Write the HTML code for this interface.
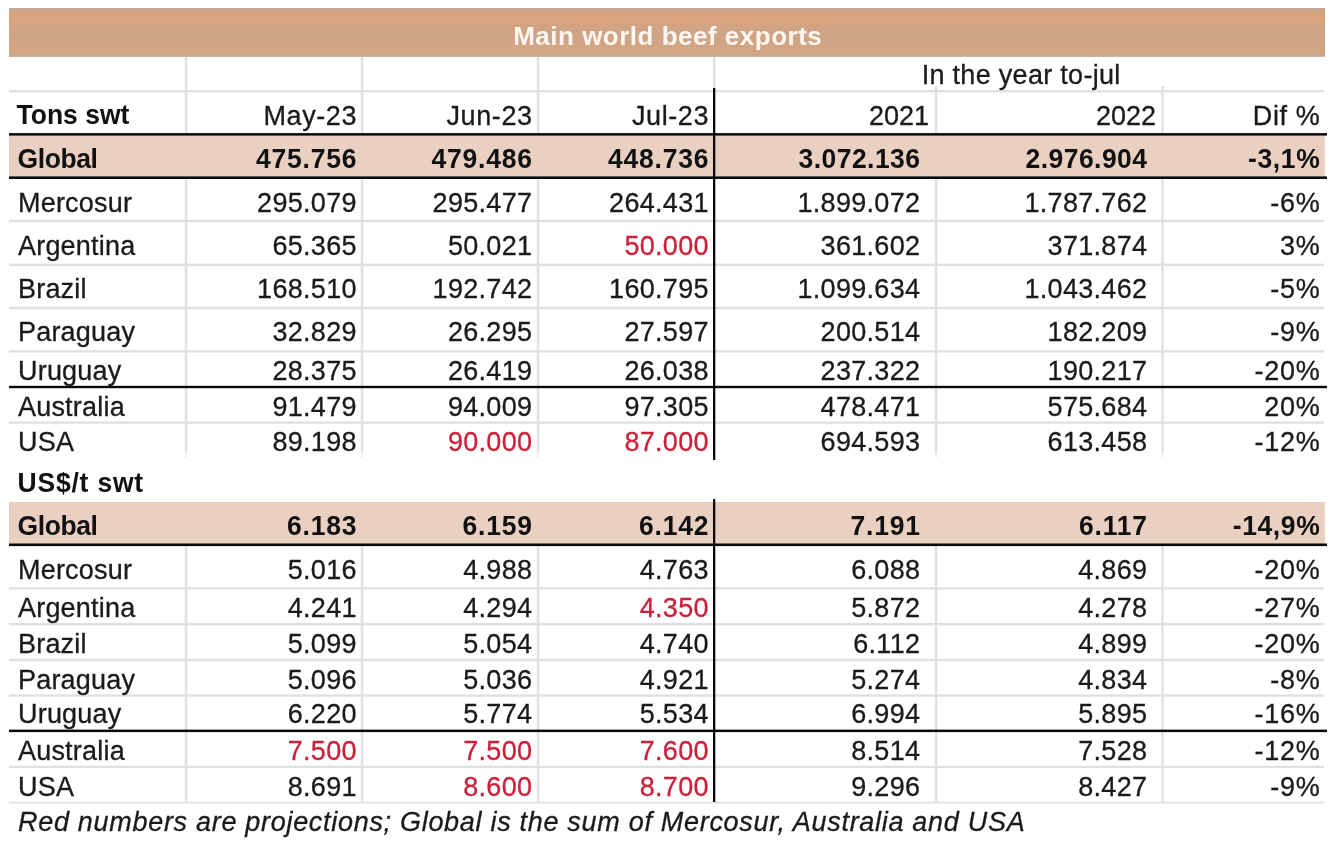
<!DOCTYPE html>
<html lang="en"><head><meta charset="utf-8"><title>Main world beef exports</title>
<style>
html,body{margin:0;padding:0;background:#fff;}
#c{position:relative;width:1330px;height:846px;overflow:hidden;background:#fff;
 font-family:"Liberation Sans",sans-serif;color:#1a1a1a;}
.r{position:absolute;}
.t{position:absolute;white-space:nowrap;line-height:1;}
.n{font-size:27px;-webkit-text-stroke:0.3px currentColor;}
.b{font-size:26.5px;font-weight:bold;color:#111;}
.i{font-size:27px;font-style:italic;-webkit-text-stroke:0.3px currentColor;}
</style></head>
<body><div id="c">
<div class="r" style="left:9px;top:8px;width:1316px;height:49px;background:linear-gradient(to bottom,#c3a38f 0,#c9a891 2px,#d5a27c 5px,#dba57b 11px,#d3a482 17px,#cea487 24px,#cfa486 34px,#d4a580 42px,#cda689 46px,#c6a995 48px,#d9c3b4 49px)"></div>
<div class="r" style="left:9px;top:135px;width:1316px;height:42px;background:#ead0c1"></div>
<div class="r" style="left:9px;top:502px;width:1316px;height:42.5px;background:#ead0c1"></div>
<div class="r" style="left:9px;top:90px;width:1315px;height:1px;background:#e0e0e3"></div>
<div class="r" style="left:9px;top:91px;width:1315px;height:1px;background:#e0e0e3"></div>
<div class="r" style="left:9px;top:92px;width:1315px;height:1px;background:#e0e0e3;opacity:0.40"></div>
<div class="r" style="left:9px;top:219px;width:1315px;height:1px;background:#e0e0e3;opacity:0.20"></div>
<div class="r" style="left:9px;top:220px;width:1315px;height:1px;background:#e0e0e3"></div>
<div class="r" style="left:9px;top:221px;width:1315px;height:1px;background:#e0e0e3"></div>
<div class="r" style="left:9px;top:222px;width:1315px;height:1px;background:#e0e0e3;opacity:0.20"></div>
<div class="r" style="left:9px;top:263px;width:1315px;height:1px;background:#e0e0e3;opacity:0.40"></div>
<div class="r" style="left:9px;top:264px;width:1315px;height:1px;background:#e0e0e3"></div>
<div class="r" style="left:9px;top:265px;width:1315px;height:1px;background:#e0e0e3"></div>
<div class="r" style="left:9px;top:306px;width:1315px;height:1px;background:#e0e0e3;opacity:0.20"></div>
<div class="r" style="left:9px;top:307px;width:1315px;height:1px;background:#e0e0e3"></div>
<div class="r" style="left:9px;top:308px;width:1315px;height:1px;background:#e0e0e3"></div>
<div class="r" style="left:9px;top:309px;width:1315px;height:1px;background:#e0e0e3;opacity:0.20"></div>
<div class="r" style="left:9px;top:350px;width:1315px;height:1px;background:#e0e0e3;opacity:0.80"></div>
<div class="r" style="left:9px;top:351px;width:1315px;height:1px;background:#e0e0e3"></div>
<div class="r" style="left:9px;top:352px;width:1315px;height:1px;background:#e0e0e3;opacity:0.60"></div>
<div class="r" style="left:9px;top:421px;width:1315px;height:1px;background:#e0e0e3;opacity:0.60"></div>
<div class="r" style="left:9px;top:422px;width:1315px;height:1px;background:#e0e0e3"></div>
<div class="r" style="left:9px;top:423px;width:1315px;height:1px;background:#e0e0e3;opacity:0.80"></div>
<div class="r" style="left:9px;top:587px;width:1315px;height:1px;background:#e0e0e3;opacity:0.80"></div>
<div class="r" style="left:9px;top:588px;width:1315px;height:1px;background:#e0e0e3"></div>
<div class="r" style="left:9px;top:589px;width:1315px;height:1px;background:#e0e0e3;opacity:0.60"></div>
<div class="r" style="left:9px;top:622px;width:1315px;height:1px;background:#e0e0e3;opacity:0.10"></div>
<div class="r" style="left:9px;top:623px;width:1315px;height:1px;background:#e0e0e3"></div>
<div class="r" style="left:9px;top:624px;width:1315px;height:1px;background:#e0e0e3"></div>
<div class="r" style="left:9px;top:625px;width:1315px;height:1px;background:#e0e0e3;opacity:0.30"></div>
<div class="r" style="left:9px;top:658px;width:1315px;height:1px;background:#e0e0e3;opacity:0.30"></div>
<div class="r" style="left:9px;top:659px;width:1315px;height:1px;background:#e0e0e3"></div>
<div class="r" style="left:9px;top:660px;width:1315px;height:1px;background:#e0e0e3"></div>
<div class="r" style="left:9px;top:661px;width:1315px;height:1px;background:#e0e0e3;opacity:0.10"></div>
<div class="r" style="left:9px;top:694px;width:1315px;height:1px;background:#e0e0e3;opacity:0.60"></div>
<div class="r" style="left:9px;top:695px;width:1315px;height:1px;background:#e0e0e3"></div>
<div class="r" style="left:9px;top:696px;width:1315px;height:1px;background:#e0e0e3;opacity:0.80"></div>
<div class="r" style="left:9px;top:765px;width:1315px;height:1px;background:#e0e0e3;opacity:0.30"></div>
<div class="r" style="left:9px;top:766px;width:1315px;height:1px;background:#e0e0e3"></div>
<div class="r" style="left:9px;top:767px;width:1315px;height:1px;background:#e0e0e3"></div>
<div class="r" style="left:9px;top:768px;width:1315px;height:1px;background:#e0e0e3;opacity:0.10"></div>
<div class="r" style="left:9px;top:801px;width:1315px;height:1px;background:#e0e0e1;opacity:0.30"></div>
<div class="r" style="left:9px;top:802px;width:1315px;height:1px;background:#e0e0e1"></div>
<div class="r" style="left:9px;top:803px;width:1315px;height:1px;background:#e0e0e1;opacity:0.50"></div>
<div class="r" style="left:184px;top:56.5px;width:1px;height:77px;background:#e0e0e3;opacity:0.20"></div>
<div class="r" style="left:185px;top:56.5px;width:1px;height:77px;background:#e0e0e3"></div>
<div class="r" style="left:186px;top:56.5px;width:1px;height:77px;background:#e0e0e3"></div>
<div class="r" style="left:187px;top:56.5px;width:1px;height:77px;background:#e0e0e3;opacity:0.20"></div>
<div class="r" style="left:184px;top:179px;width:1px;height:273px;background:#e0e0e3;opacity:0.20"></div>
<div class="r" style="left:185px;top:179px;width:1px;height:273px;background:#e0e0e3"></div>
<div class="r" style="left:186px;top:179px;width:1px;height:273px;background:#e0e0e3"></div>
<div class="r" style="left:187px;top:179px;width:1px;height:273px;background:#e0e0e3;opacity:0.20"></div>
<div class="r" style="left:184px;top:546px;width:1px;height:255.5px;background:#e0e0e3;opacity:0.20"></div>
<div class="r" style="left:185px;top:546px;width:1px;height:255.5px;background:#e0e0e3"></div>
<div class="r" style="left:186px;top:546px;width:1px;height:255.5px;background:#e0e0e3"></div>
<div class="r" style="left:187px;top:546px;width:1px;height:255.5px;background:#e0e0e3;opacity:0.20"></div>
<div class="r" style="left:360px;top:56.5px;width:1px;height:77px;background:#e0e0e3;opacity:0.20"></div>
<div class="r" style="left:361px;top:56.5px;width:1px;height:77px;background:#e0e0e3"></div>
<div class="r" style="left:362px;top:56.5px;width:1px;height:77px;background:#e0e0e3"></div>
<div class="r" style="left:363px;top:56.5px;width:1px;height:77px;background:#e0e0e3;opacity:0.20"></div>
<div class="r" style="left:360px;top:179px;width:1px;height:273px;background:#e0e0e3;opacity:0.20"></div>
<div class="r" style="left:361px;top:179px;width:1px;height:273px;background:#e0e0e3"></div>
<div class="r" style="left:362px;top:179px;width:1px;height:273px;background:#e0e0e3"></div>
<div class="r" style="left:363px;top:179px;width:1px;height:273px;background:#e0e0e3;opacity:0.20"></div>
<div class="r" style="left:360px;top:546px;width:1px;height:255.5px;background:#e0e0e3;opacity:0.20"></div>
<div class="r" style="left:361px;top:546px;width:1px;height:255.5px;background:#e0e0e3"></div>
<div class="r" style="left:362px;top:546px;width:1px;height:255.5px;background:#e0e0e3"></div>
<div class="r" style="left:363px;top:546px;width:1px;height:255.5px;background:#e0e0e3;opacity:0.20"></div>
<div class="r" style="left:536px;top:56.5px;width:1px;height:77px;background:#e0e0e3;opacity:0.20"></div>
<div class="r" style="left:537px;top:56.5px;width:1px;height:77px;background:#e0e0e3"></div>
<div class="r" style="left:538px;top:56.5px;width:1px;height:77px;background:#e0e0e3"></div>
<div class="r" style="left:539px;top:56.5px;width:1px;height:77px;background:#e0e0e3;opacity:0.20"></div>
<div class="r" style="left:536px;top:179px;width:1px;height:273px;background:#e0e0e3;opacity:0.20"></div>
<div class="r" style="left:537px;top:179px;width:1px;height:273px;background:#e0e0e3"></div>
<div class="r" style="left:538px;top:179px;width:1px;height:273px;background:#e0e0e3"></div>
<div class="r" style="left:539px;top:179px;width:1px;height:273px;background:#e0e0e3;opacity:0.20"></div>
<div class="r" style="left:536px;top:546px;width:1px;height:255.5px;background:#e0e0e3;opacity:0.20"></div>
<div class="r" style="left:537px;top:546px;width:1px;height:255.5px;background:#e0e0e3"></div>
<div class="r" style="left:538px;top:546px;width:1px;height:255.5px;background:#e0e0e3"></div>
<div class="r" style="left:539px;top:546px;width:1px;height:255.5px;background:#e0e0e3;opacity:0.20"></div>
<div class="r" style="left:934px;top:86px;width:1px;height:47.5px;background:#e0e0e3;opacity:0.10"></div>
<div class="r" style="left:935px;top:86px;width:1px;height:47.5px;background:#e0e0e3"></div>
<div class="r" style="left:936px;top:86px;width:1px;height:47.5px;background:#e0e0e3"></div>
<div class="r" style="left:937px;top:86px;width:1px;height:47.5px;background:#e0e0e3;opacity:0.30"></div>
<div class="r" style="left:934px;top:179px;width:1px;height:273px;background:#e0e0e3;opacity:0.10"></div>
<div class="r" style="left:935px;top:179px;width:1px;height:273px;background:#e0e0e3"></div>
<div class="r" style="left:936px;top:179px;width:1px;height:273px;background:#e0e0e3"></div>
<div class="r" style="left:937px;top:179px;width:1px;height:273px;background:#e0e0e3;opacity:0.30"></div>
<div class="r" style="left:934px;top:546px;width:1px;height:255.5px;background:#e0e0e3;opacity:0.10"></div>
<div class="r" style="left:935px;top:546px;width:1px;height:255.5px;background:#e0e0e3"></div>
<div class="r" style="left:936px;top:546px;width:1px;height:255.5px;background:#e0e0e3"></div>
<div class="r" style="left:937px;top:546px;width:1px;height:255.5px;background:#e0e0e3;opacity:0.30"></div>
<div class="r" style="left:1161px;top:86px;width:1px;height:47.5px;background:#e0e0e3;opacity:0.70"></div>
<div class="r" style="left:1162px;top:86px;width:1px;height:47.5px;background:#e0e0e3"></div>
<div class="r" style="left:1163px;top:86px;width:1px;height:47.5px;background:#e0e0e3;opacity:0.70"></div>
<div class="r" style="left:1161px;top:179px;width:1px;height:273px;background:#e0e0e3;opacity:0.70"></div>
<div class="r" style="left:1162px;top:179px;width:1px;height:273px;background:#e0e0e3"></div>
<div class="r" style="left:1163px;top:179px;width:1px;height:273px;background:#e0e0e3;opacity:0.70"></div>
<div class="r" style="left:1161px;top:546px;width:1px;height:255.5px;background:#e0e0e3;opacity:0.70"></div>
<div class="r" style="left:1162px;top:546px;width:1px;height:255.5px;background:#e0e0e3"></div>
<div class="r" style="left:1163px;top:546px;width:1px;height:255.5px;background:#e0e0e3;opacity:0.70"></div>
<div class="r" style="left:184px;top:452px;width:1px;height:6px;background:#f1f1f3;opacity:0.20"></div>
<div class="r" style="left:185px;top:452px;width:1px;height:6px;background:#f1f1f3"></div>
<div class="r" style="left:186px;top:452px;width:1px;height:6px;background:#f1f1f3"></div>
<div class="r" style="left:187px;top:452px;width:1px;height:6px;background:#f1f1f3;opacity:0.20"></div>
<div class="r" style="left:360px;top:452px;width:1px;height:6px;background:#f1f1f3;opacity:0.20"></div>
<div class="r" style="left:361px;top:452px;width:1px;height:6px;background:#f1f1f3"></div>
<div class="r" style="left:362px;top:452px;width:1px;height:6px;background:#f1f1f3"></div>
<div class="r" style="left:363px;top:452px;width:1px;height:6px;background:#f1f1f3;opacity:0.20"></div>
<div class="r" style="left:536px;top:452px;width:1px;height:6px;background:#f1f1f3;opacity:0.20"></div>
<div class="r" style="left:537px;top:452px;width:1px;height:6px;background:#f1f1f3"></div>
<div class="r" style="left:538px;top:452px;width:1px;height:6px;background:#f1f1f3"></div>
<div class="r" style="left:539px;top:452px;width:1px;height:6px;background:#f1f1f3;opacity:0.20"></div>
<div class="r" style="left:934px;top:452px;width:1px;height:6px;background:#f1f1f3;opacity:0.10"></div>
<div class="r" style="left:935px;top:452px;width:1px;height:6px;background:#f1f1f3"></div>
<div class="r" style="left:936px;top:452px;width:1px;height:6px;background:#f1f1f3"></div>
<div class="r" style="left:937px;top:452px;width:1px;height:6px;background:#f1f1f3;opacity:0.30"></div>
<div class="r" style="left:1161px;top:452px;width:1px;height:6px;background:#f1f1f3;opacity:0.70"></div>
<div class="r" style="left:1162px;top:452px;width:1px;height:6px;background:#f1f1f3"></div>
<div class="r" style="left:1163px;top:452px;width:1px;height:6px;background:#f1f1f3;opacity:0.70"></div>
<div class="r" style="left:712px;top:56.5px;width:1px;height:32px;background:#e0e0e3;opacity:0.10"></div>
<div class="r" style="left:713px;top:56.5px;width:1px;height:32px;background:#e0e0e3"></div>
<div class="r" style="left:714px;top:56.5px;width:1px;height:32px;background:#e0e0e3"></div>
<div class="r" style="left:715px;top:56.5px;width:1px;height:32px;background:#e0e0e3;opacity:0.30"></div>
<div class="r" style="left:9px;top:133px;width:1318px;height:1px;background:#0a0a0a;opacity:0.90"></div>
<div class="r" style="left:9px;top:134px;width:1318px;height:1px;background:#0a0a0a"></div>
<div class="r" style="left:9px;top:135px;width:1318px;height:1px;background:#0a0a0a;opacity:0.60"></div>
<div class="r" style="left:9px;top:176px;width:1318px;height:1px;background:#0a0a0a;opacity:0.60"></div>
<div class="r" style="left:9px;top:177px;width:1318px;height:1px;background:#0a0a0a"></div>
<div class="r" style="left:9px;top:178px;width:1318px;height:1px;background:#0a0a0a"></div>
<div class="r" style="left:9px;top:385px;width:1318px;height:1px;background:#0a0a0a;opacity:0.20"></div>
<div class="r" style="left:9px;top:386px;width:1318px;height:1px;background:#0a0a0a"></div>
<div class="r" style="left:9px;top:387px;width:1318px;height:1px;background:#0a0a0a"></div>
<div class="r" style="left:9px;top:388px;width:1318px;height:1px;background:#0a0a0a;opacity:0.20"></div>
<div class="r" style="left:9px;top:543px;width:1318px;height:1px;background:#0a0a0a;opacity:0.50"></div>
<div class="r" style="left:9px;top:544px;width:1318px;height:1px;background:#0a0a0a"></div>
<div class="r" style="left:9px;top:545px;width:1318px;height:1px;background:#0a0a0a"></div>
<div class="r" style="left:9px;top:546px;width:1318px;height:1px;background:#0a0a0a;opacity:0.10"></div>
<div class="r" style="left:9px;top:729px;width:1318px;height:1px;background:#0a0a0a;opacity:0.40"></div>
<div class="r" style="left:9px;top:730px;width:1318px;height:1px;background:#0a0a0a"></div>
<div class="r" style="left:9px;top:731px;width:1318px;height:1px;background:#0a0a0a"></div>
<div class="r" style="left:9px;top:732px;width:1318px;height:1px;background:#0a0a0a;opacity:0.10"></div>
<div class="r" style="left:713px;top:88px;width:1px;height:372px;background:#0a0a0a"></div>
<div class="r" style="left:714px;top:88px;width:1px;height:372px;background:#0a0a0a"></div>
<div class="r" style="left:715px;top:88px;width:1px;height:372px;background:#0a0a0a;opacity:0.30"></div>
<div class="r" style="left:713px;top:499px;width:1px;height:303px;background:#0a0a0a"></div>
<div class="r" style="left:714px;top:499px;width:1px;height:303px;background:#0a0a0a"></div>
<div class="r" style="left:715px;top:499px;width:1px;height:303px;background:#0a0a0a;opacity:0.30"></div>
<div class="t b ttl" style="top:22.69px;left:267.75px;width:800px;text-align:center;color:#fff6ef;transform:scaleY(1.0);transform-origin:0 22.01px;font-size:26px;letter-spacing:0.5px;">Main world beef exports</div>
<div class="t n" style="top:62.14px;left:621.15px;width:800px;text-align:center;letter-spacing:0.3px;">In the year to-jul</div>
<div class="t b" style="top:102.47px;left:16.5px;transform:scaleY(1.07);transform-origin:0 22.43px;">Tons swt</div>
<div class="t n" style="top:103.14px;right:972.9px;letter-spacing:0.6px;">May-23</div>
<div class="t n" style="top:103.14px;right:797.4px;letter-spacing:0.6px;">Jun-23</div>
<div class="t n" style="top:103.14px;right:620.9px;letter-spacing:0.6px;">Jul-23</div>
<div class="t n" style="top:103.14px;right:401px;">2021</div>
<div class="t n" style="top:103.14px;right:174px;">2022</div>
<div class="t n" style="top:103.14px;right:9.7px;letter-spacing:0.6px;">Dif %</div>
<div class="t b" style="top:146.07px;left:17.5px;transform:scaleY(1.07);transform-origin:0 22.43px;letter-spacing:-0.4px;">Global</div>
<div class="t b" style="top:146.07px;right:972.7px;transform:scaleY(1.07);transform-origin:0 22.43px;letter-spacing:0.8px;">475.756</div>
<div class="t b" style="top:146.07px;right:797.2px;transform:scaleY(1.07);transform-origin:0 22.43px;letter-spacing:0.8px;">479.486</div>
<div class="t b" style="top:146.07px;right:620.7px;transform:scaleY(1.07);transform-origin:0 22.43px;letter-spacing:0.8px;">448.736</div>
<div class="t b" style="top:146.07px;right:409.55px;transform:scaleY(1.07);transform-origin:0 22.43px;letter-spacing:0.45px;">3.072.136</div>
<div class="t b" style="top:146.07px;right:182.55px;transform:scaleY(1.07);transform-origin:0 22.43px;letter-spacing:0.45px;">2.976.904</div>
<div class="t b" style="top:146.07px;right:9.7px;transform:scaleY(1.07);transform-origin:0 22.43px;letter-spacing:0.6px;">-3,1%</div>
<div class="t n" style="top:189.84px;left:18px;letter-spacing:0.2px;">Mercosur</div>
<div class="t n" style="top:189.84px;right:973.2px;letter-spacing:0.3px;">295.079</div>
<div class="t n" style="top:189.84px;right:797.7px;letter-spacing:0.3px;">295.477</div>
<div class="t n" style="top:189.84px;right:621.2px;letter-spacing:0.3px;">264.431</div>
<div class="t n" style="top:189.84px;right:409.7px;letter-spacing:0.3px;">1.899.072</div>
<div class="t n" style="top:189.84px;right:182.7px;letter-spacing:0.3px;">1.787.762</div>
<div class="t n" style="top:189.84px;right:9.6px;letter-spacing:0.7px;">-6%</div>
<div class="t n" style="top:232.74px;left:18px;letter-spacing:0.2px;">Argentina</div>
<div class="t n" style="top:232.74px;right:973.2px;letter-spacing:0.3px;">65.365</div>
<div class="t n" style="top:232.74px;right:797.7px;letter-spacing:0.3px;">50.021</div>
<div class="t n" style="top:232.74px;right:621.2px;color:#cc1f3a;letter-spacing:0.3px;">50.000</div>
<div class="t n" style="top:232.74px;right:409.7px;letter-spacing:0.3px;">361.602</div>
<div class="t n" style="top:232.74px;right:182.7px;letter-spacing:0.3px;">371.874</div>
<div class="t n" style="top:232.74px;right:9.6px;letter-spacing:0.7px;">3%</div>
<div class="t n" style="top:276.34px;left:18px;letter-spacing:0.2px;">Brazil</div>
<div class="t n" style="top:276.34px;right:973.2px;letter-spacing:0.3px;">168.510</div>
<div class="t n" style="top:276.34px;right:797.7px;letter-spacing:0.3px;">192.742</div>
<div class="t n" style="top:276.34px;right:621.2px;letter-spacing:0.3px;">160.795</div>
<div class="t n" style="top:276.34px;right:409.7px;letter-spacing:0.3px;">1.099.634</div>
<div class="t n" style="top:276.34px;right:182.7px;letter-spacing:0.3px;">1.043.462</div>
<div class="t n" style="top:276.34px;right:9.6px;letter-spacing:0.7px;">-5%</div>
<div class="t n" style="top:319.24px;left:18px;letter-spacing:0.2px;">Paraguay</div>
<div class="t n" style="top:319.24px;right:973.2px;letter-spacing:0.3px;">32.829</div>
<div class="t n" style="top:319.24px;right:797.7px;letter-spacing:0.3px;">26.295</div>
<div class="t n" style="top:319.24px;right:621.2px;letter-spacing:0.3px;">27.597</div>
<div class="t n" style="top:319.24px;right:409.7px;letter-spacing:0.3px;">200.514</div>
<div class="t n" style="top:319.24px;right:182.7px;letter-spacing:0.3px;">182.209</div>
<div class="t n" style="top:319.24px;right:9.6px;letter-spacing:0.7px;">-9%</div>
<div class="t n" style="top:357.54px;left:18px;letter-spacing:0.2px;">Uruguay</div>
<div class="t n" style="top:357.54px;right:973.2px;letter-spacing:0.3px;">28.375</div>
<div class="t n" style="top:357.54px;right:797.7px;letter-spacing:0.3px;">26.419</div>
<div class="t n" style="top:357.54px;right:621.2px;letter-spacing:0.3px;">26.038</div>
<div class="t n" style="top:357.54px;right:409.7px;letter-spacing:0.3px;">237.322</div>
<div class="t n" style="top:357.54px;right:182.7px;letter-spacing:0.3px;">190.217</div>
<div class="t n" style="top:357.54px;right:9.6px;letter-spacing:0.7px;">-20%</div>
<div class="t n" style="top:393.64px;left:18px;letter-spacing:0.2px;">Australia</div>
<div class="t n" style="top:393.64px;right:973.2px;letter-spacing:0.3px;">91.479</div>
<div class="t n" style="top:393.64px;right:797.7px;letter-spacing:0.3px;">94.009</div>
<div class="t n" style="top:393.64px;right:621.2px;letter-spacing:0.3px;">97.305</div>
<div class="t n" style="top:393.64px;right:409.7px;letter-spacing:0.3px;">478.471</div>
<div class="t n" style="top:393.64px;right:182.7px;letter-spacing:0.3px;">575.684</div>
<div class="t n" style="top:393.64px;right:9.6px;letter-spacing:0.7px;">20%</div>
<div class="t n" style="top:428.94px;left:18px;letter-spacing:0.2px;">USA</div>
<div class="t n" style="top:428.94px;right:973.2px;letter-spacing:0.3px;">89.198</div>
<div class="t n" style="top:428.94px;right:797.7px;color:#cc1f3a;letter-spacing:0.3px;">90.000</div>
<div class="t n" style="top:428.94px;right:621.2px;color:#cc1f3a;letter-spacing:0.3px;">87.000</div>
<div class="t n" style="top:428.94px;right:409.7px;letter-spacing:0.3px;">694.593</div>
<div class="t n" style="top:428.94px;right:182.7px;letter-spacing:0.3px;">613.458</div>
<div class="t n" style="top:428.94px;right:9.6px;letter-spacing:0.7px;">-12%</div>
<div class="t b" style="top:469.67px;left:17.5px;transform:scaleY(1.07);transform-origin:0 22.43px;letter-spacing:0.8px;">US$/t swt</div>
<div class="t b" style="top:512.97px;left:17.5px;transform:scaleY(1.07);transform-origin:0 22.43px;letter-spacing:-0.4px;">Global</div>
<div class="t b" style="top:512.97px;right:972.7px;transform:scaleY(1.07);transform-origin:0 22.43px;letter-spacing:0.8px;">6.183</div>
<div class="t b" style="top:512.97px;right:797.2px;transform:scaleY(1.07);transform-origin:0 22.43px;letter-spacing:0.8px;">6.159</div>
<div class="t b" style="top:512.97px;right:620.7px;transform:scaleY(1.07);transform-origin:0 22.43px;letter-spacing:0.8px;">6.142</div>
<div class="t b" style="top:512.97px;right:409.2px;transform:scaleY(1.07);transform-origin:0 22.43px;letter-spacing:0.8px;">7.191</div>
<div class="t b" style="top:512.97px;right:182.2px;transform:scaleY(1.07);transform-origin:0 22.43px;letter-spacing:0.8px;">6.117</div>
<div class="t b" style="top:512.97px;right:9.7px;transform:scaleY(1.07);transform-origin:0 22.43px;letter-spacing:0.6px;">-14,9%</div>
<div class="t n" style="top:556.84px;left:18px;letter-spacing:0.2px;">Mercosur</div>
<div class="t n" style="top:556.84px;right:973.2px;letter-spacing:0.3px;">5.016</div>
<div class="t n" style="top:556.84px;right:797.7px;letter-spacing:0.3px;">4.988</div>
<div class="t n" style="top:556.84px;right:621.2px;letter-spacing:0.3px;">4.763</div>
<div class="t n" style="top:556.84px;right:409.7px;letter-spacing:0.3px;">6.088</div>
<div class="t n" style="top:556.84px;right:182.7px;letter-spacing:0.3px;">4.869</div>
<div class="t n" style="top:556.84px;right:9.6px;letter-spacing:0.7px;">-20%</div>
<div class="t n" style="top:594.84px;left:18px;letter-spacing:0.2px;">Argentina</div>
<div class="t n" style="top:594.84px;right:973.2px;letter-spacing:0.3px;">4.241</div>
<div class="t n" style="top:594.84px;right:797.7px;letter-spacing:0.3px;">4.294</div>
<div class="t n" style="top:594.84px;right:621.2px;color:#cc1f3a;letter-spacing:0.3px;">4.350</div>
<div class="t n" style="top:594.84px;right:409.7px;letter-spacing:0.3px;">5.872</div>
<div class="t n" style="top:594.84px;right:182.7px;letter-spacing:0.3px;">4.278</div>
<div class="t n" style="top:594.84px;right:9.6px;letter-spacing:0.7px;">-27%</div>
<div class="t n" style="top:630.84px;left:18px;letter-spacing:0.2px;">Brazil</div>
<div class="t n" style="top:630.84px;right:973.2px;letter-spacing:0.3px;">5.099</div>
<div class="t n" style="top:630.84px;right:797.7px;letter-spacing:0.3px;">5.054</div>
<div class="t n" style="top:630.84px;right:621.2px;letter-spacing:0.3px;">4.740</div>
<div class="t n" style="top:630.84px;right:409.7px;letter-spacing:0.3px;">6.112</div>
<div class="t n" style="top:630.84px;right:182.7px;letter-spacing:0.3px;">4.899</div>
<div class="t n" style="top:630.84px;right:9.6px;letter-spacing:0.7px;">-20%</div>
<div class="t n" style="top:666.54px;left:18px;letter-spacing:0.2px;">Paraguay</div>
<div class="t n" style="top:666.54px;right:973.2px;letter-spacing:0.3px;">5.096</div>
<div class="t n" style="top:666.54px;right:797.7px;letter-spacing:0.3px;">5.036</div>
<div class="t n" style="top:666.54px;right:621.2px;letter-spacing:0.3px;">4.921</div>
<div class="t n" style="top:666.54px;right:409.7px;letter-spacing:0.3px;">5.274</div>
<div class="t n" style="top:666.54px;right:182.7px;letter-spacing:0.3px;">4.834</div>
<div class="t n" style="top:666.54px;right:9.6px;letter-spacing:0.7px;">-8%</div>
<div class="t n" style="top:700.64px;left:18px;letter-spacing:0.2px;">Uruguay</div>
<div class="t n" style="top:700.64px;right:973.2px;letter-spacing:0.3px;">6.220</div>
<div class="t n" style="top:700.64px;right:797.7px;letter-spacing:0.3px;">5.774</div>
<div class="t n" style="top:700.64px;right:621.2px;letter-spacing:0.3px;">5.534</div>
<div class="t n" style="top:700.64px;right:409.7px;letter-spacing:0.3px;">6.994</div>
<div class="t n" style="top:700.64px;right:182.7px;letter-spacing:0.3px;">5.895</div>
<div class="t n" style="top:700.64px;right:9.6px;letter-spacing:0.7px;">-16%</div>
<div class="t n" style="top:737.74px;left:18px;letter-spacing:0.2px;">Australia</div>
<div class="t n" style="top:737.74px;right:973.2px;color:#cc1f3a;letter-spacing:0.3px;">7.500</div>
<div class="t n" style="top:737.74px;right:797.7px;color:#cc1f3a;letter-spacing:0.3px;">7.500</div>
<div class="t n" style="top:737.74px;right:621.2px;color:#cc1f3a;letter-spacing:0.3px;">7.600</div>
<div class="t n" style="top:737.74px;right:409.7px;letter-spacing:0.3px;">8.514</div>
<div class="t n" style="top:737.74px;right:182.7px;letter-spacing:0.3px;">7.528</div>
<div class="t n" style="top:737.74px;right:9.6px;letter-spacing:0.7px;">-12%</div>
<div class="t n" style="top:773.54px;left:18px;letter-spacing:0.2px;">USA</div>
<div class="t n" style="top:773.54px;right:973.2px;letter-spacing:0.3px;">8.691</div>
<div class="t n" style="top:773.54px;right:797.7px;color:#cc1f3a;letter-spacing:0.3px;">8.600</div>
<div class="t n" style="top:773.54px;right:621.2px;color:#cc1f3a;letter-spacing:0.3px;">8.700</div>
<div class="t n" style="top:773.54px;right:409.7px;letter-spacing:0.3px;">9.296</div>
<div class="t n" style="top:773.54px;right:182.7px;letter-spacing:0.3px;">8.427</div>
<div class="t n" style="top:773.54px;right:9.6px;letter-spacing:0.7px;">-9%</div>
<div class="t i" style="top:809.34px;left:18px;letter-spacing:0.7px;">Red numbers are projections; Global is the sum of Mercosur, Australia and USA</div>
</div></body></html>
